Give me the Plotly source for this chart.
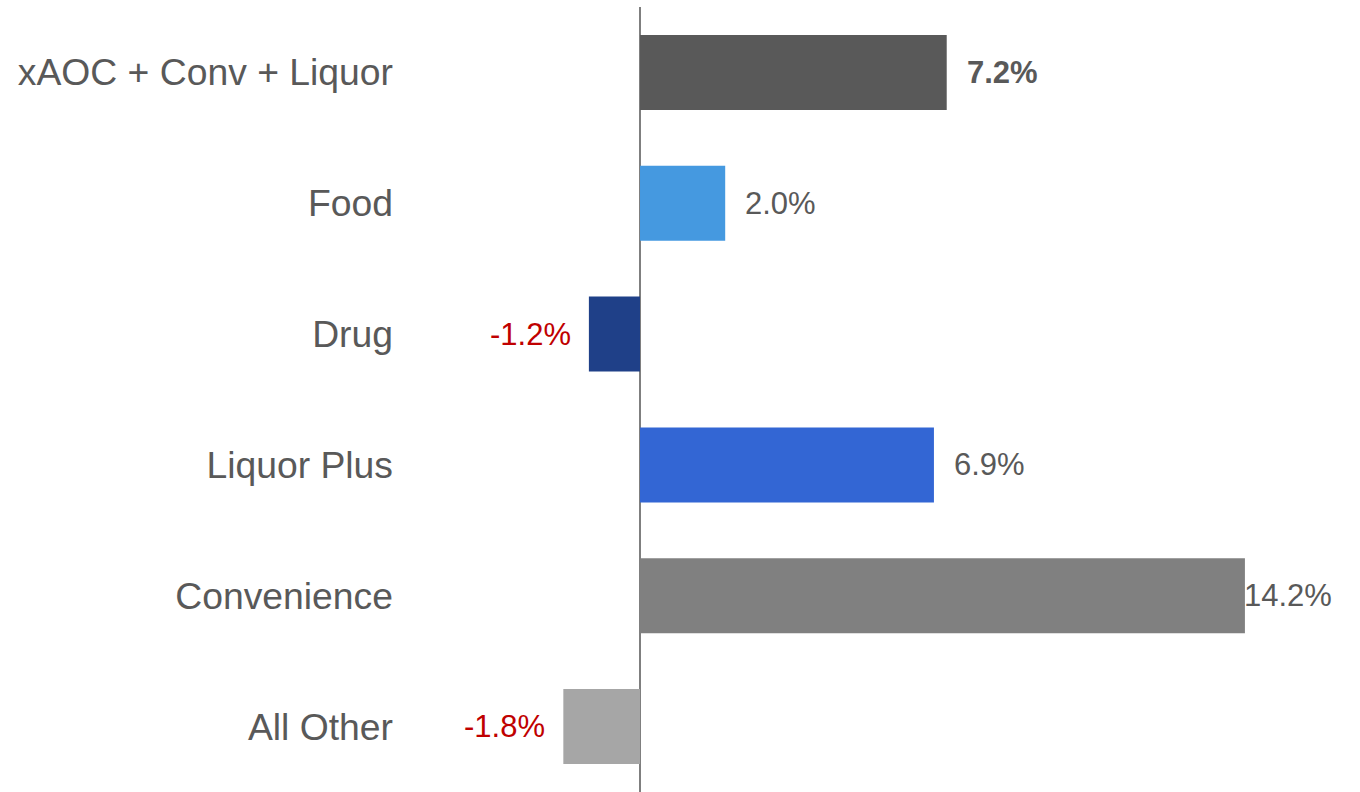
import plotly.graph_objects as go

categories = ["xAOC + Conv + Liquor", "Food", "Drug", "Liquor Plus", "Convenience", "All Other"]
values = [7.2, 2.0, -1.2, 6.9, 14.2, -1.8]
labels = ["7.2%", "2.0%", "-1.2%", "6.9%", "14.2%", "-1.8%"]
bar_colors = ["#595959", "#4599E0", "#1F4088", "#3366D4", "#808080", "#A6A6A6"]

TEXT = "#595959"
RED = "#C00000"
FONT = "Liberation Sans, Arial, sans-serif"

fig = go.Figure()
fig.add_trace(go.Bar(
    y=categories, x=values, orientation="h",
    marker=dict(color=bar_colors, line=dict(width=0)),
    hoverinfo="skip",
))

vmax = max(values)
for i, (c, v, t) in enumerate(zip(categories, values, labels)):
    neg = v < 0
    txt = f"<b>{t}</b>" if i == 0 else t
    if neg:
        anchor, shift = "right", -16
    else:
        anchor, shift = "left", (-3 if v == vmax else 18)
    fig.add_annotation(
        x=v, y=c, xref="x", yref="y", text=txt, showarrow=False,
        xanchor=anchor, xshift=shift, yanchor="middle",
        font=dict(family=FONT, size=31, color=RED if neg else TEXT),
    )

fig.update_layout(
    width=1360, height=792,
    margin=dict(l=400, r=20, t=7, b=0),
    paper_bgcolor="white", plot_bgcolor="white",
    showlegend=False,
    bargap=0.427,
    font=dict(family=FONT, color=TEXT),
)
fig.update_xaxes(
    range=[-5.634, 16.432], showgrid=False, showticklabels=False, ticks="",
    zeroline=True, zerolinecolor="#7F7F7F", zerolinewidth=1.5, showline=False,
)
fig.update_yaxes(
    autorange="reversed", showgrid=False, ticks="", showline=False,
    tickfont=dict(family=FONT, size=37.3, color=TEXT), ticklabelstandoff=6,
)

fig.write_html("out.html")
